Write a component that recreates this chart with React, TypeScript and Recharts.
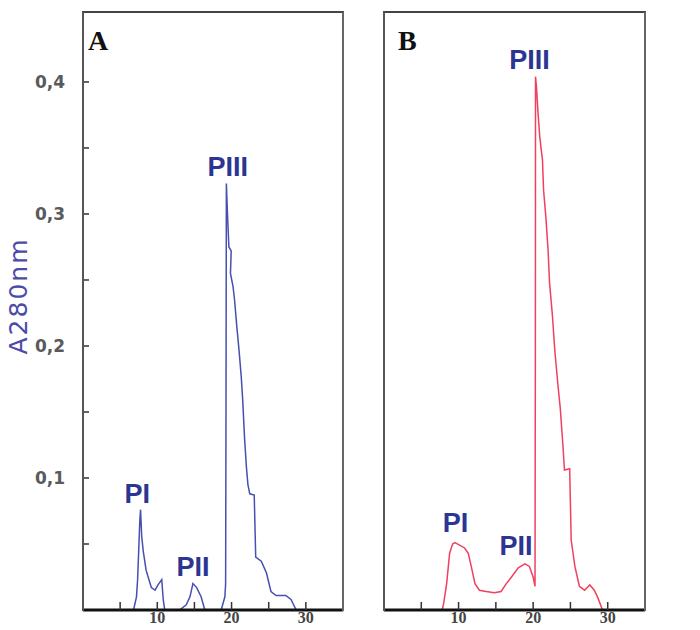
import { LineChart, Line, XAxis, YAxis, ReferenceDot } from 'recharts';

// fraction number (x) vs absorbance
const aX = [6.8, 7.2, 7.35, 7.5, 7.65, 7.75, 7.9, 8.1, 8.5, 9.2, 9.7, 10.1, 10.6, 10.8, 11.0, 13.0, 13.9, 14.4, 14.8, 15.3, 15.9, 16.4, 18.6, 19.1, 19.2, 19.25, 19.3, 19.45, 19.64, 19.95, 19.85, 20.2, 20.4, 20.7, 21.0, 21.3, 21.5, 21.75, 22.0, 22.2, 22.45, 23.05, 23.25, 24.0, 24.7, 25.3, 26.0, 27.3, 28.0, 28.7, 29.0];
const aY = [0, 0.01, 0.023, 0.045, 0.068, 0.076, 0.056, 0.045, 0.03, 0.017, 0.015, 0.019, 0.023, 0.008, 0, 0, 0.004, 0.01, 0.02, 0.017, 0.01, 0, 0, 0.01, 0.02, 0.15, 0.323, 0.3, 0.275, 0.272, 0.255, 0.245, 0.235, 0.215, 0.197, 0.177, 0.159, 0.13, 0.108, 0.095, 0.088, 0.087, 0.04, 0.037, 0.028, 0.014, 0.011, 0.011, 0.008, 0, 0];

const bX = [7.8, 8.0, 8.4, 8.8, 9.2, 9.5, 10.2, 10.8, 11.3, 11.7, 12.2, 12.8, 13.7, 14.8, 15.7, 16.4, 17.1, 18.0, 18.9, 19.5, 20.0, 20.25, 20.3, 20.32, 20.45, 20.66, 20.88, 21.1, 21.25, 21.4, 21.7, 22.0, 22.2, 22.6, 22.9, 23.3, 23.65, 24.0, 24.2, 24.9, 25.1, 25.6, 26.2, 26.9, 27.6, 28.2, 28.7, 29.3];
const bY = [0, 0.005, 0.02, 0.043, 0.05, 0.051, 0.049, 0.047, 0.043, 0.033, 0.02, 0.015, 0.014, 0.013, 0.014, 0.02, 0.025, 0.032, 0.035, 0.033, 0.025, 0.018, 0.2, 0.404, 0.396, 0.376, 0.359, 0.348, 0.341, 0.318, 0.298, 0.273, 0.248, 0.222, 0.197, 0.172, 0.152, 0.124, 0.106, 0.107, 0.053, 0.033, 0.018, 0.015, 0.019, 0.015, 0.009, 0];

const xTicks = [5, 10, 15, 20, 25, 30];
const xTickLabels = ['', '10', '', '20', '', '30'];
const yTicks = [0.05, 0.1, 0.15, 0.2, 0.25, 0.3, 0.35, 0.4];
const yTickLabels = ['', '0,1', '', '0,2', '', '0,3', '', '0,4'];

const peaksA = [
  { name: 'PI', x: 7.3, y: 0.0886 },
  { name: 'PII', x: 14.8, y: 0.033 },
  { name: 'PIII', x: 19.5, y: 0.336 },
];
const peaksB = [
  { name: 'PI', x: 9.6, y: 0.066 },
  { name: 'PII', x: 17.7, y: 0.049 },
  { name: 'PIII', x: 19.5, y: 0.417 },
];

const X_MAX = 35;
const Y_MAX = 0.453;

const dataA = aX.map((x, i) => ({ x, v: aY[i] }));
const dataB = bX.map((x, i) => ({ x, v: bY[i] }));

const labelStyle = {
  position: 'center' as const,
  fill: '#2c3592',
  fontSize: 27,
  fontWeight: 'bold',
  fontFamily: 'Liberation Sans, Arial, sans-serif',
};

function Panel({ data, peaks, color, showY, width, margin }: any) {
  return (
    <LineChart width={width} height={630} data={data} margin={margin}>
      <XAxis
        dataKey="x"
        type="number"
        domain={[0, X_MAX]}
        ticks={xTicks}
        tickFormatter={(_v: number, i: number) => xTickLabels[i]}
        tickSize={-8}
        tickMargin={10}
        height={20}
        axisLine={{ stroke: '#111', strokeWidth: 3 }}
        tickLine={{ stroke: '#333', strokeWidth: 1.5 }}
        tick={{ fill: '#444', fontSize: 16, fontWeight: 'bold', fontFamily: 'Liberation Serif, serif' }}
        interval={0}
      />
      <YAxis
        type="number"
        domain={[0, Y_MAX]}
        ticks={showY ? yTicks : []}
        tickFormatter={(_v: number, i: number) => yTickLabels[i]}
        tickSize={-6}
        tickMargin={24}
        width={showY ? 60 : 0}
        axisLine={false}
        tickLine={showY ? { stroke: '#333', strokeWidth: 1.5 } : false}
        tick={showY ? { fill: '#5a5a5a', fontSize: 17, fontWeight: 'bold', fontFamily: 'DejaVu Sans, sans-serif' } : false}
        interval={0}
      />
      <Line type="linear" dataKey="v" stroke={color} strokeWidth={1.5} dot={false} isAnimationActive={false} />
      {peaks.map((p: any) => (
        <ReferenceDot key={p.name} x={p.x} y={p.y} r={0} fill="none" stroke="none" label={{ value: p.name, ...labelStyle }} />
      ))}
    </LineChart>
  );
}

const frame = {
  position: 'absolute' as const,
  top: 11,
  height: 598,
  borderLeft: '2px solid #555',
  borderTop: '2px solid #444',
  borderRight: '2px solid #666',
  pointerEvents: 'none' as const,
};

export default function App() {
  return (
    <div style={{ position: 'absolute', left: 0, top: 0, width: 700, height: 630, overflow: 'hidden', background: '#fff' }}>
      <div style={{ position: 'absolute', left: 0, top: 0 }}>
        <Panel data={dataA} peaks={peaksA} color="#4550b0" showY width={360} margin={{ top: 12, right: 17, bottom: 0, left: 23 }} />
      </div>
      <div style={{ position: 'absolute', left: 360, top: 0 }}>
        <Panel data={dataB} peaks={peaksB} color="#f0405e" showY={false} width={340} margin={{ top: 12, right: 55, bottom: 0, left: 24 }} />
      </div>
      <div style={{ ...frame, left: 82, width: 258 }} />
      <div style={{ ...frame, left: 383, width: 259 }} />
      <svg width={700} height={630} style={{ position: 'absolute', left: 0, top: 0, pointerEvents: 'none' }}>
        <text x={88} y={50} fontFamily="Liberation Serif, serif" fontWeight="bold" fontSize={28} fill="#111">A</text>
        <text x={398} y={50} fontFamily="Liberation Serif, serif" fontWeight="bold" fontSize={28} fill="#111">B</text>
        <text
          x={18}
          y={296}
          transform="rotate(-90 18 296)"
          textAnchor="middle"
          dominantBaseline="central"
          fontFamily="DejaVu Sans, sans-serif"
          fontSize={25}
          letterSpacing={2}
          fill="#4b4ba8"
        >
          A280nm
        </text>
      </svg>
    </div>
  );
}
